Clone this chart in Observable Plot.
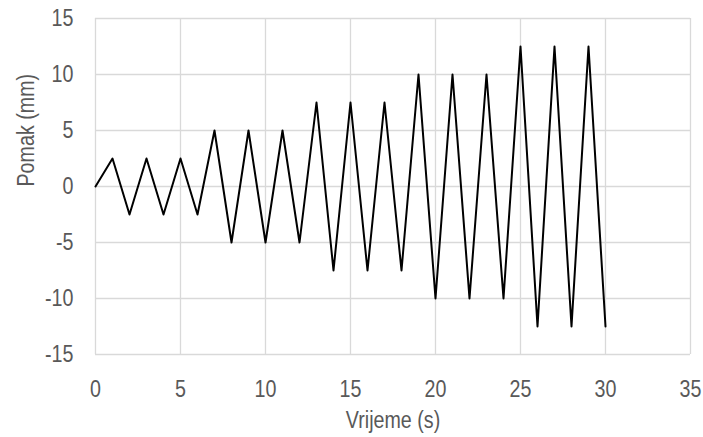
<!DOCTYPE html>
<html>
<head>
<meta charset="utf-8">
<script src="https://cdn.jsdelivr.net/npm/d3@7"></script>
<script src="https://cdn.jsdelivr.net/npm/@observablehq/plot@0.6"></script>
<style>
  html, body { margin: 0; padding: 0; background: #fff; }
  #chart svg { display: block; }
</style>
</head>
<body>
<div id="chart"></div>
<script>
const times = [0,1,2,3,4,5,6,7,8,9,10,11,12,13,14,15,16,17,18,19,20,21,22,23,24,25,26,27,28,29,30];
const displacements = [0,2.5,-2.5,2.5,-2.5,2.5,-2.5,5,-5,5,-5,5,-5,7.5,-7.5,7.5,-7.5,7.5,-7.5,10,-10,10,-10,10,-10,12.5,-12.5,12.5,-12.5,12.5,-12.5];
const xTicks = [0,5,10,15,20,25,30,35];
const yTicks = [-15,-10,-5,0,5,10,15];
const xLabel = "Vrijeme (s)";
const yLabel = "Pomak (mm)";

const data = times.map((t, i) => ({t, d: displacements[i]}));
const font = "'Liberation Sans', Arial, sans-serif";
const textColor = "#595959";
const gridColor = "#d9d9d9";
const fmt = d => String(d);

const chart = Plot.plot({
  width: 703,
  height: 437,
  marginLeft: 95,
  marginRight: 13,
  marginTop: 18,
  marginBottom: 83,
  style: {fontFamily: font, fontSize: "24px", color: textColor, background: "#fff"},
  x: {domain: [0, 35], ticks: xTicks},
  y: {domain: [-15, 15], ticks: yTicks},
  marks: [
    Plot.gridX(xTicks, {stroke: gridColor, strokeOpacity: 1, strokeWidth: 1.3}),
    Plot.gridY(yTicks, {stroke: gridColor, strokeOpacity: 1, strokeWidth: 1.3}),
    Plot.axisX(xTicks, {tickSize: 0, tickPadding: 25, fill: textColor, label: null, fontSize: 24, tickFormat: fmt}),
    Plot.axisY(yTicks, {tickSize: 0, tickPadding: 22, fill: textColor, label: null, fontSize: 24, tickFormat: fmt}),
    Plot.line(data, {x: "t", y: "d", stroke: "#000", strokeWidth: 2}),
    Plot.text([xLabel], {frameAnchor: "bottom", dy: 73, lineAnchor: "bottom", fill: textColor, fontSize: 24}),
    Plot.text([yLabel], {frameAnchor: "left", dx: -62, rotate: -90, lineAnchor: "bottom", fill: textColor, fontSize: 24})
  ]
});
// narrow the glyphs horizontally (Arial Narrow look)
chart.querySelectorAll("text").forEach(el => {
  const t = el.getAttribute("transform") || "";
  el.setAttribute("transform", (t + " scale(0.82,1)").trim());
});
document.getElementById("chart").appendChild(chart);
</script>
</body>
</html>
